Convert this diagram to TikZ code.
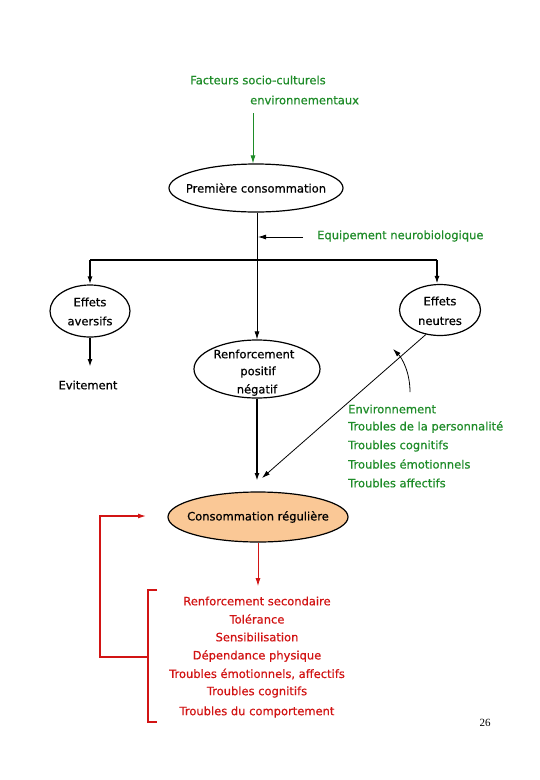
\documentclass[tikz,border=0pt]{standalone}
\usepackage{fontspec}
\setmainfont{DejaVu Sans}[FakeBold=0.6]
\newfontfamily\numfont{Liberation Serif}
\usetikzlibrary{shapes.geometric,arrows.meta}
\definecolor{dgreen}{RGB}{30,140,40}
\definecolor{dred}{RGB}{210,20,20}
\definecolor{lorange}{RGB}{250,200,150}
\newcommand{\dfont}{\fontsize{11.5}{14}\selectfont}
\tikzset{
  ell/.style={ellipse,draw,line width=1.2pt,inner sep=0pt},
  txt/.style={font=\dfont,inner sep=0pt},
  tip/.style={-{Latex[length=8pt,width=5pt]}},
  thinl/.style={line width=0.8pt},
  thickl/.style={line width=1.6pt},
}
\begin{document}
\begin{tikzpicture}[x=1pt,y=-1pt]
\useasboundingbox[fill=white] (0,0) rectangle (540,780);
% top green text
\node[txt,text=dgreen,anchor=west] (fac) at (190,80) {Facteurs socio-culturels};
\node[txt,text=dgreen,anchor=west] (env) at (250,100) {environnementaux};
\coordinate (g1) at (253,113);
\node[ell,minimum width=174pt,minimum height=48pt,label={center:{\dfont Première consommation}}] (prem) at (256,188) {};
\draw[dgreen,thinl,tip] (g1) -- (prem.north -| g1);
% equipement
\node[txt,text=dgreen,anchor=west] (equip) at (317,236) {Equipement neurobiologique};
\coordinate (e1) at (303,237);
\coordinate (e2) at (258,237);
\draw[thinl,tip] (e1) -- (e2);
% renforcement
\node[ell,minimum width=126pt,minimum height=58pt] (renf) at (257,369) {};
\node[txt] (r1) at (254,354) {Renforcement};
\node[txt] (r2) at (258,372) {positif};
\node[txt] (r3) at (257,390) {négatif};
\draw[thinl,tip] (prem.south -| renf.north) -- (renf.north);
% branches
\node[ell,minimum width=80pt,minimum height=52pt] (avers) at (90,311) {};
\node[txt] (a1) at (90,302) {Effets};
\node[txt] (a2) at (90,321) {aversifs};
\node[ell,minimum width=81pt,minimum height=51pt] (neut) at (440,310) {};
\node[txt] (n1) at (440,301) {Effets};
\node[txt] (n2) at (440,321) {neutres};
\coordinate (hl) at (90,260);
\coordinate (hr) at (437,260);
\draw[thickl] (hl) -- (hr);
\draw[thickl,tip] (hl) -- (avers.north);
\draw[thickl,tip] (hr) -- (hr |- neut.north);
\node[txt] (evit) at (88,385) {Evitement};
\coordinate (ev) at (90,367);
\draw[thickl,tip] (avers.south) -- (ev);
% consommation reguliere
\node[ell,fill=lorange,minimum width=180pt,minimum height=50pt,label={center:{\dfont Consommation régulière}}] (cons) at (258,517) {};
\coordinate (c1) at (257,481);
\draw[thickl,tip] (renf.south) -- (c1);
\coordinate (c2) at (262,478);
\draw[thinl,tip] (neut.240) -- (c2);
% curved arrow
\coordinate (k1) at (410,392);
\coordinate (k2) at (393,349);
\draw[thinl,tip] (k1) .. controls (410,372) and (402,358) .. (k2);
% green list
\node[txt,text=dgreen,anchor=west] (g1t) at (348,409) {Environnement};
\node[txt,text=dgreen,anchor=west] (g2t) at (348,427) {Troubles de la personnalité};
\node[txt,text=dgreen,anchor=west] (g3t) at (348,446) {Troubles cognitifs};
\node[txt,text=dgreen,anchor=west] (g4t) at (348,464) {Troubles émotionnels};
\node[txt,text=dgreen,anchor=west] (g5t) at (348,483) {Troubles affectifs};
% red arrow
\coordinate (rd) at (258,586);
\draw[dred,thinl,tip] (cons.south) -- (rd);
% red list
\node[txt,text=dred] (l1) at (257,601) {Renforcement secondaire};
\node[txt,text=dred] (l2) at (257,619) {Tolérance};
\node[txt,text=dred] (l3) at (257,637) {Sensibilisation};
\node[txt,text=dred] (l4) at (257,656) {Dépendance physique};
\node[txt,text=dred] (l5) at (257,674) {Troubles émotionnels, affectifs};
\node[txt,text=dred] (l6) at (257,692) {Troubles cognitifs};
\node[txt,text=dred] (l7) at (257,712) {Troubles du comportement};
% bracket
\coordinate (b1) at (157,590);
\coordinate (b2) at (148,590);
\coordinate (b3) at (148,722);
\coordinate (b4) at (157,722);
\draw[dred,line width=1.2pt] (b1) -- (b2) -- (b3) -- (b4);
\coordinate (bm) at (148,657);
\coordinate (fb) at (146,516);
\draw[dred,line width=1.2pt,tip] (bm) -- (100,657) -- (100,516) -- (fb);
% page number
\node[inner sep=0pt,font=\numfont\fontsize{11}{13}\selectfont] (pg) at (485,723) {26};
\end{tikzpicture}
\end{document}
